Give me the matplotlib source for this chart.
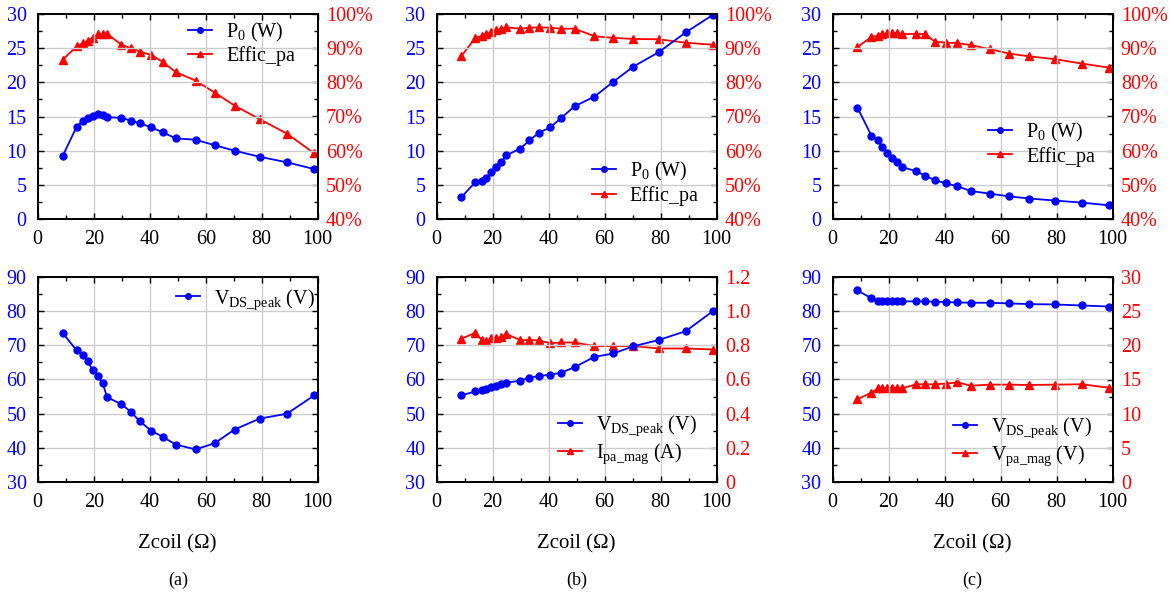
import matplotlib
matplotlib.use('Agg')
import matplotlib.pyplot as plt
from matplotlib.ticker import MultipleLocator, FuncFormatter

plt.rcParams['font.family'] = ['Liberation Serif', 'DejaVu Serif']
plt.rcParams['mathtext.fontset'] = 'custom'
plt.rcParams['mathtext.rm'] = 'Liberation Serif'

BLUE = '#0000ff'
RED = '#ff0000'

# Zcoil values (ohm), common to all panels
zcoil = [8.9, 13.9, 16.3, 17.8, 19.6, 21.4, 23.2, 24.8, 29.9, 33.2, 36.5,
         40.6, 44.6, 49.3, 56.4, 63.2, 70.3, 79.3, 89.0, 98.8]

# (a)
p0_a = [9.2, 13.5, 14.4, 14.8, 15.1, 15.3, 15.2, 14.9, 14.8, 14.4, 14.0,
        13.4, 12.7, 11.8, 11.6, 10.8, 10.0, 9.1, 8.3, 7.3]
eff_a = [86.6, 90.5, 91.5, 92.0, 93.0, 94.0, 94.2, 94.2, 91.0, 90.0, 89.0,
         88.0, 86.0, 83.0, 80.5, 77.0, 73.2, 69.2, 65.0, 59.2]
vds_a = [73.6, 68.5, 67.1, 65.3, 62.8, 60.9, 58.9, 54.8, 52.8, 50.6, 47.8,
         45.0, 43.3, 41.0, 39.6, 41.4, 45.4, 48.6, 50.0, 55.4]

# (b)
p0_b = [3.2, 5.4, 5.5, 6.0, 6.9, 7.6, 8.3, 9.3, 10.3, 11.5, 12.6,
        13.4, 14.8, 16.5, 17.9, 20.1, 22.3, 24.4, 27.3, 29.9]
eff_b = [87.7, 93.0, 93.6, 94.0, 94.7, 95.3, 95.7, 96.1, 95.7, 96.0, 96.1,
         96.0, 95.7, 95.7, 93.5, 93.0, 92.7, 92.6, 91.6, 91.0]
vds_b = [55.4, 56.5, 57.0, 57.3, 57.7, 58.2, 58.7, 59.0, 59.7, 60.5, 61.0,
         61.4, 62.0, 63.6, 66.6, 67.6, 69.7, 71.5, 74.1, 80.0]
ipa_b = [0.838, 0.873, 0.828, 0.822, 0.840, 0.844, 0.846, 0.867, 0.830, 0.830, 0.828,
         0.812, 0.816, 0.816, 0.795, 0.795, 0.795, 0.781, 0.781, 0.775]

# (c)
p0_c = [16.3, 12.2, 11.5, 10.5, 9.7, 9.0, 8.3, 7.6, 7.0, 6.3, 5.7,
        5.2, 4.8, 4.1, 3.7, 3.3, 3.0, 2.7, 2.4, 2.0]
eff_c = [90.3, 93.3, 93.6, 94.0, 94.3, 94.3, 94.4, 94.1, 94.2, 94.1, 91.9,
         91.6, 91.5, 90.9, 89.7, 88.4, 87.6, 86.8, 85.5, 84.3]
vds_c = [86.0, 83.7, 83.0, 83.0, 83.0, 82.9, 82.9, 82.8, 82.8, 82.8, 82.7,
         82.6, 82.5, 82.4, 82.4, 82.2, 82.0, 81.9, 81.6, 81.3]
vpa_c = [12.1, 13.1, 13.7, 13.7, 13.7, 13.8, 13.8, 13.7, 14.3, 14.3, 14.3,
         14.4, 14.6, 14.1, 14.25, 14.25, 14.2, 14.25, 14.3, 13.8]

W, H = 1172, 592
fig = plt.figure(figsize=(W / 100, H / 100), dpi=100)

cols = [37.7, 436.5, 832.5]
rows = [(14, 219), (276.7, 482.3)]
AW = 280
FS = 14.5


def make_axes(col, row):
    x0 = cols[col]
    top, bot = rows[row]
    ax = fig.add_axes([x0 / W, 1 - bot / H, AW / W, (bot - top) / H])
    ax.set_xlim(0, 100)
    ax.xaxis.set_major_locator(MultipleLocator(20))
    ax.xaxis.set_minor_locator(MultipleLocator(10))
    ax.grid(True, color='#cccccc', lw=1.0)
    ax.set_axisbelow(True)
    for s in ax.spines.values():
        s.set_linewidth(1.4)
    ax.tick_params(which='both', direction='in', top=True, labelsize=FS)
    ax.tick_params(which='major', length=4, width=1)
    ax.tick_params(which='minor', length=3, width=1)
    ax.tick_params(axis='y', labelcolor=BLUE, pad=8)
    ax.tick_params(axis='x', pad=8)
    return ax


def right_axis(ax, lo, hi, step, fmt=None):
    ax2 = ax.twinx()
    ax2.set_ylim(lo, hi)
    ax2.yaxis.set_major_locator(MultipleLocator(step))
    ax2.yaxis.set_minor_locator(MultipleLocator(step / 2))
    ax2.tick_params(which='both', direction='in', labelsize=FS, labelcolor=RED, pad=6)
    ax2.tick_params(which='major', length=4, width=1)
    ax2.tick_params(which='minor', length=3, width=1)
    if fmt:
        ax2.yaxis.set_major_formatter(FuncFormatter(fmt))
    for s in ax2.spines.values():
        s.set_linewidth(1.4)
    ax.set_zorder(ax2.get_zorder() + 1)
    ax.patch.set_visible(False)
    return ax2


def blue_line(ax, y, label):
    return ax.plot(zcoil, y, '-o', color=BLUE, ms=5, lw=1.3, label=label)[0]


def red_line(ax, y, label):
    return ax.plot(zcoil, y, '-^', color=RED, ms=5.5, lw=1.3, label=label)[0]


def legend(ax, handles, labels, x, y):
    leg = ax.legend(handles, labels, loc='center left', bbox_to_anchor=(x, y),
                    frameon=False, fontsize=FS, handlelength=1.2, handletextpad=0.7,
                    labelspacing=0.15, borderpad=0, borderaxespad=0, markerscale=0.8)
    return leg


pct = lambda v, p: '%d%%' % v
p0_lab = r'P$_{0}$ (W)'
eff_lab = 'Effic_pa'
vds_lab = r'V$_{\mathrm{DS\_peak}}$ (V)'

top_data = [(p0_a, eff_a), (p0_b, eff_b), (p0_c, eff_c)]
legend_locs = [(0.537, 0.856), (0.554, 0.176), (0.555, 0.368)]
for i, (p0, eff) in enumerate(top_data):
    ax = make_axes(i, 0)
    ax.set_ylim(0, 30)
    ax.yaxis.set_major_locator(MultipleLocator(5))
    ax.yaxis.set_minor_locator(MultipleLocator(2.5))
    ax2 = right_axis(ax, 40, 100, 10, pct)
    l1 = blue_line(ax, p0, p0_lab)
    l2 = red_line(ax2, eff, eff_lab)
    legend(ax, [l1, l2], [p0_lab, eff_lab], *legend_locs[i])

# bottom row
ax = make_axes(0, 1)
ax.set_ylim(30, 90)
ax.yaxis.set_major_locator(MultipleLocator(10))
ax.yaxis.set_minor_locator(MultipleLocator(5))
ax.tick_params(axis='y', which='both', right=True)
l1 = blue_line(ax, vds_a, vds_lab)
legend(ax, [l1], [vds_lab], 0.494, 0.89)
ax.set_xlabel('Zcoil (Ω)', fontsize=15, labelpad=16)

bottom_right = [(ipa_b, 0, 1.2, 0.2, 'I$_{\\mathrm{pa\\_mag}}$ (A)',
                 lambda v, p: '0' if abs(v) < 1e-9 else '%.1f' % v, (0.433, 0.207)),
                (vpa_c, 0, 30, 5, 'V$_{\\mathrm{pa\\_mag}}$ (V)', None, (0.431, 0.197))]
bottom_blue = [vds_b, vds_c]
for k in range(2):
    ax = make_axes(k + 1, 1)
    ax.set_ylim(30, 90)
    ax.yaxis.set_major_locator(MultipleLocator(10))
    ax.yaxis.set_minor_locator(MultipleLocator(5))
    y2, lo, hi, st, lab, fmt, loc = bottom_right[k]
    ax2 = right_axis(ax, lo, hi, st, fmt)
    l1 = blue_line(ax, bottom_blue[k], vds_lab)
    l2 = red_line(ax2, y2, lab)
    legend(ax, [l1, l2], [vds_lab, lab], *loc)
    ax.set_xlabel('Zcoil (Ω)', fontsize=15, labelpad=16)

for lab, xc in zip(['(a)', '(b)', '(c)'], [178, 577, 972]):
    fig.text(xc / W, 1 - 580 / H, lab, ha='center', va='center', fontsize=13)

fig.savefig('out.png', dpi=100)
